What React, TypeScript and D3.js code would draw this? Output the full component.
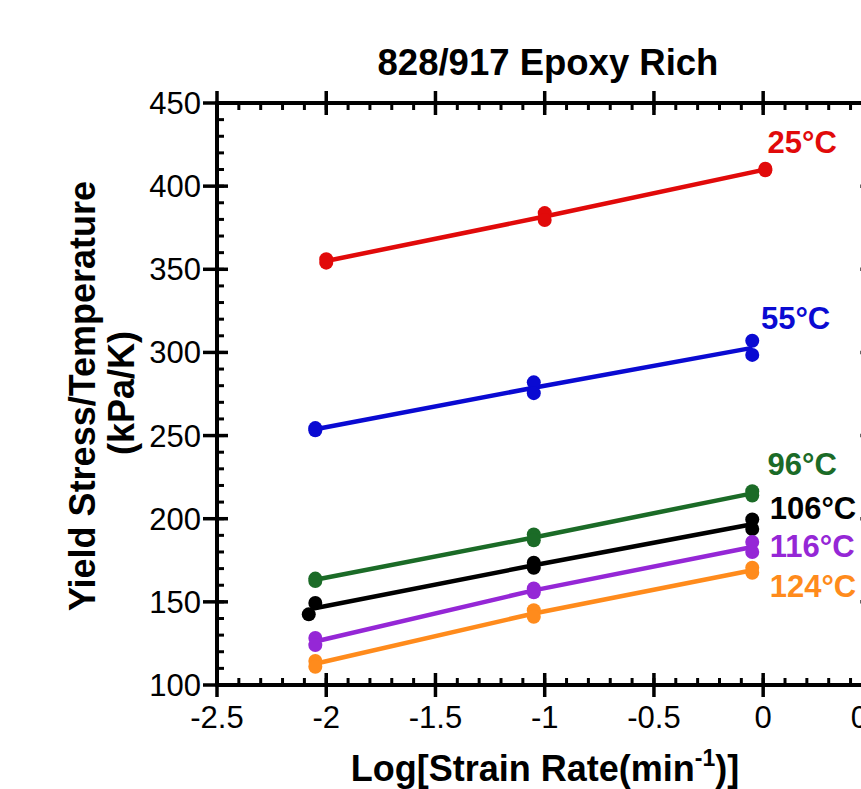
import * as React from "react";
import * as d3 from "d3";

// replicate measurements, [log strain rate, yield stress / T]
const labels = ["25°C", "55°C", "96°C", "106°C", "116°C", "124°C"];
const colors = ["#e10a0a", "#0a0ad2", "#1b6b27", "#000000", "#9527d6", "#ff8b1c"];

const t25 = [[-2.0, 356], [-2.0, 354], [-1.0, 383.8], [-1.0, 379.6], [0.01, 410.5], [0.01, 409.5]];
const t55 = [[-2.05, 254.5], [-2.05, 253.2], [-1.05, 282], [-1.05, 275.5], [-0.05, 307], [-0.05, 298.5]];
const t96 = [[-2.05, 164], [-2.05, 162.5], [-1.05, 190.5], [-1.05, 187], [-0.05, 216.5], [-0.05, 214]];
const t106 = [[-2.05, 149.3], [-2.08, 142.5], [-1.05, 173.5], [-1.05, 170.5], [-0.05, 199.5], [-0.05, 193.8]];
const t116 = [[-2.05, 128.3], [-2.05, 124], [-1.05, 158], [-1.05, 155.8], [-0.05, 186], [-0.05, 180]];
const t124 = [[-2.05, 114.5], [-2.05, 111], [-1.05, 145], [-1.05, 141], [-0.05, 170.5], [-0.05, 167.5]];

const series = [t25, t55, t96, t106, t116, t124];
// where each temperature label sits (data units)
const labelPos = [[0.02, 420], [-0.01, 314], [0.02, 226], [0.03, 200], [0.03, 177], [0.03, 153]];

const xTicks = [-2.5, -2, -1.5, -1, -0.5, 0, 0.5];
const yTicks = [100, 150, 200, 250, 300, 350, 400, 450];

const font = "'Liberation Sans', Arial, sans-serif";

export default function App() {
  const width = 861, height = 789;
  const x = d3.scaleLinear().domain([-2.5, 0.5]).range([217, 872.4]);
  const y = d3.scaleLinear().domain([100, 450]).range([685, 103]);

  const xMinor = d3.range(-2.5, 0.5001, 0.1).map(v => +v.toFixed(2));
  const yMinor = d3.range(100, 450.01, 10);

  const line = d3.line<number[]>().x(d => x(d[0])).y(d => y(d[1]));
  const means = (pts: number[][]) =>
    Array.from(d3.group(pts, p => Math.round(p[0])).values()).map(g => [d3.mean(g, p => p[0])!, d3.mean(g, p => p[1])!]);

  const axisStroke = 4;
  const [x0, x1] = x.range();
  const [y0, y1] = y.range();

  return (
    <svg width={width} height={height} style={{ position: "absolute", left: 0, top: 0, display: "block" }}
      fontFamily={font}>
      <rect width={width} height={height} fill="#fff" />
      <text x={548} y={75} textAnchor="middle" fontSize={36.5} fontWeight="bold">828/917 Epoxy Rich</text>

      {/* frame */}
      <g stroke="#000" strokeLinecap="square">
        <line x1={x0} x2={x1} y1={y0} y2={y0} strokeWidth={axisStroke} />
        <line x1={x0} x2={x1} y1={y1} y2={y1} strokeWidth={axisStroke} />
        <line x1={x0} x2={x0} y1={y0} y2={y1} strokeWidth={axisStroke} />
        <line x1={x1} x2={x1} y1={y0} y2={y1} strokeWidth={axisStroke} />
      </g>
      <g stroke="#000" strokeWidth={3}>
        {xMinor.map(v => (
          <g key={"xm" + v}>
            <line x1={x(v)} x2={x(v)} y1={y0} y2={y0 - 7} />
            <line x1={x(v)} x2={x(v)} y1={y1} y2={y1 + 7} />
          </g>
        ))}
        {yMinor.map(v => (
          <g key={"ym" + v}>
            <line x1={x0} x2={x0 + 7} y1={y(v)} y2={y(v)} />
            <line x1={x1} x2={x1 - 7} y1={y(v)} y2={y(v)} />
          </g>
        ))}
        {xTicks.map(v => (
          <g key={"xM" + v} strokeWidth={3.5}>
            <line x1={x(v)} x2={x(v)} y1={y0 - 12} y2={y0 + 12} />
            <line x1={x(v)} x2={x(v)} y1={y1 - 12} y2={y1 + 12} />
          </g>
        ))}
        {yTicks.map(v => (
          <g key={"yM" + v} strokeWidth={3.5}>
            <line x1={x0 - 14} x2={x0 + 11} y1={y(v)} y2={y(v)} />
            <line x1={x1 - 12} x2={x1 + 12} y1={y(v)} y2={y(v)} />
          </g>
        ))}
      </g>
      <g fontSize={31}>
        {xTicks.map(v => (
          <text key={"xl" + v} x={x(v)} y={728} textAnchor="middle">{String(v)}</text>
        ))}
        {yTicks.map(v => (
          <text key={"yl" + v} x={201} y={y(v) + 11} textAnchor="end">{v}</text>
        ))}
      </g>

      <text x={545} y={781} textAnchor="middle" fontSize={36} fontWeight="bold">
        Log[Strain Rate(min<tspan fontSize={23} dy={-15}>-1</tspan><tspan dy={15}>)]</tspan>
      </text>
      <g fontSize={36} fontWeight="bold" textAnchor="middle">
        <text transform={`translate(95,396) rotate(-90)`}>Yield Stress/Temperature</text>
        <text transform={`translate(134,393) rotate(-90)`}>(kPa/K)</text>
      </g>

      {series.map((pts, i) => (
        <g key={"s" + i} fill={colors[i]} stroke={colors[i]}>
          <path d={line(means(pts)) ?? ""} fill="none" strokeWidth={4.5} />
          {pts.map((p, j) => (
            <circle key={j} cx={x(p[0])} cy={y(p[1])} r={7} stroke="none" />
          ))}
          <text x={x(labelPos[i][0])} y={y(labelPos[i][1])} stroke="none" fontSize={31} fontWeight="bold">
            {labels[i]}
          </text>
        </g>
      ))}
    </svg>
  );
}
